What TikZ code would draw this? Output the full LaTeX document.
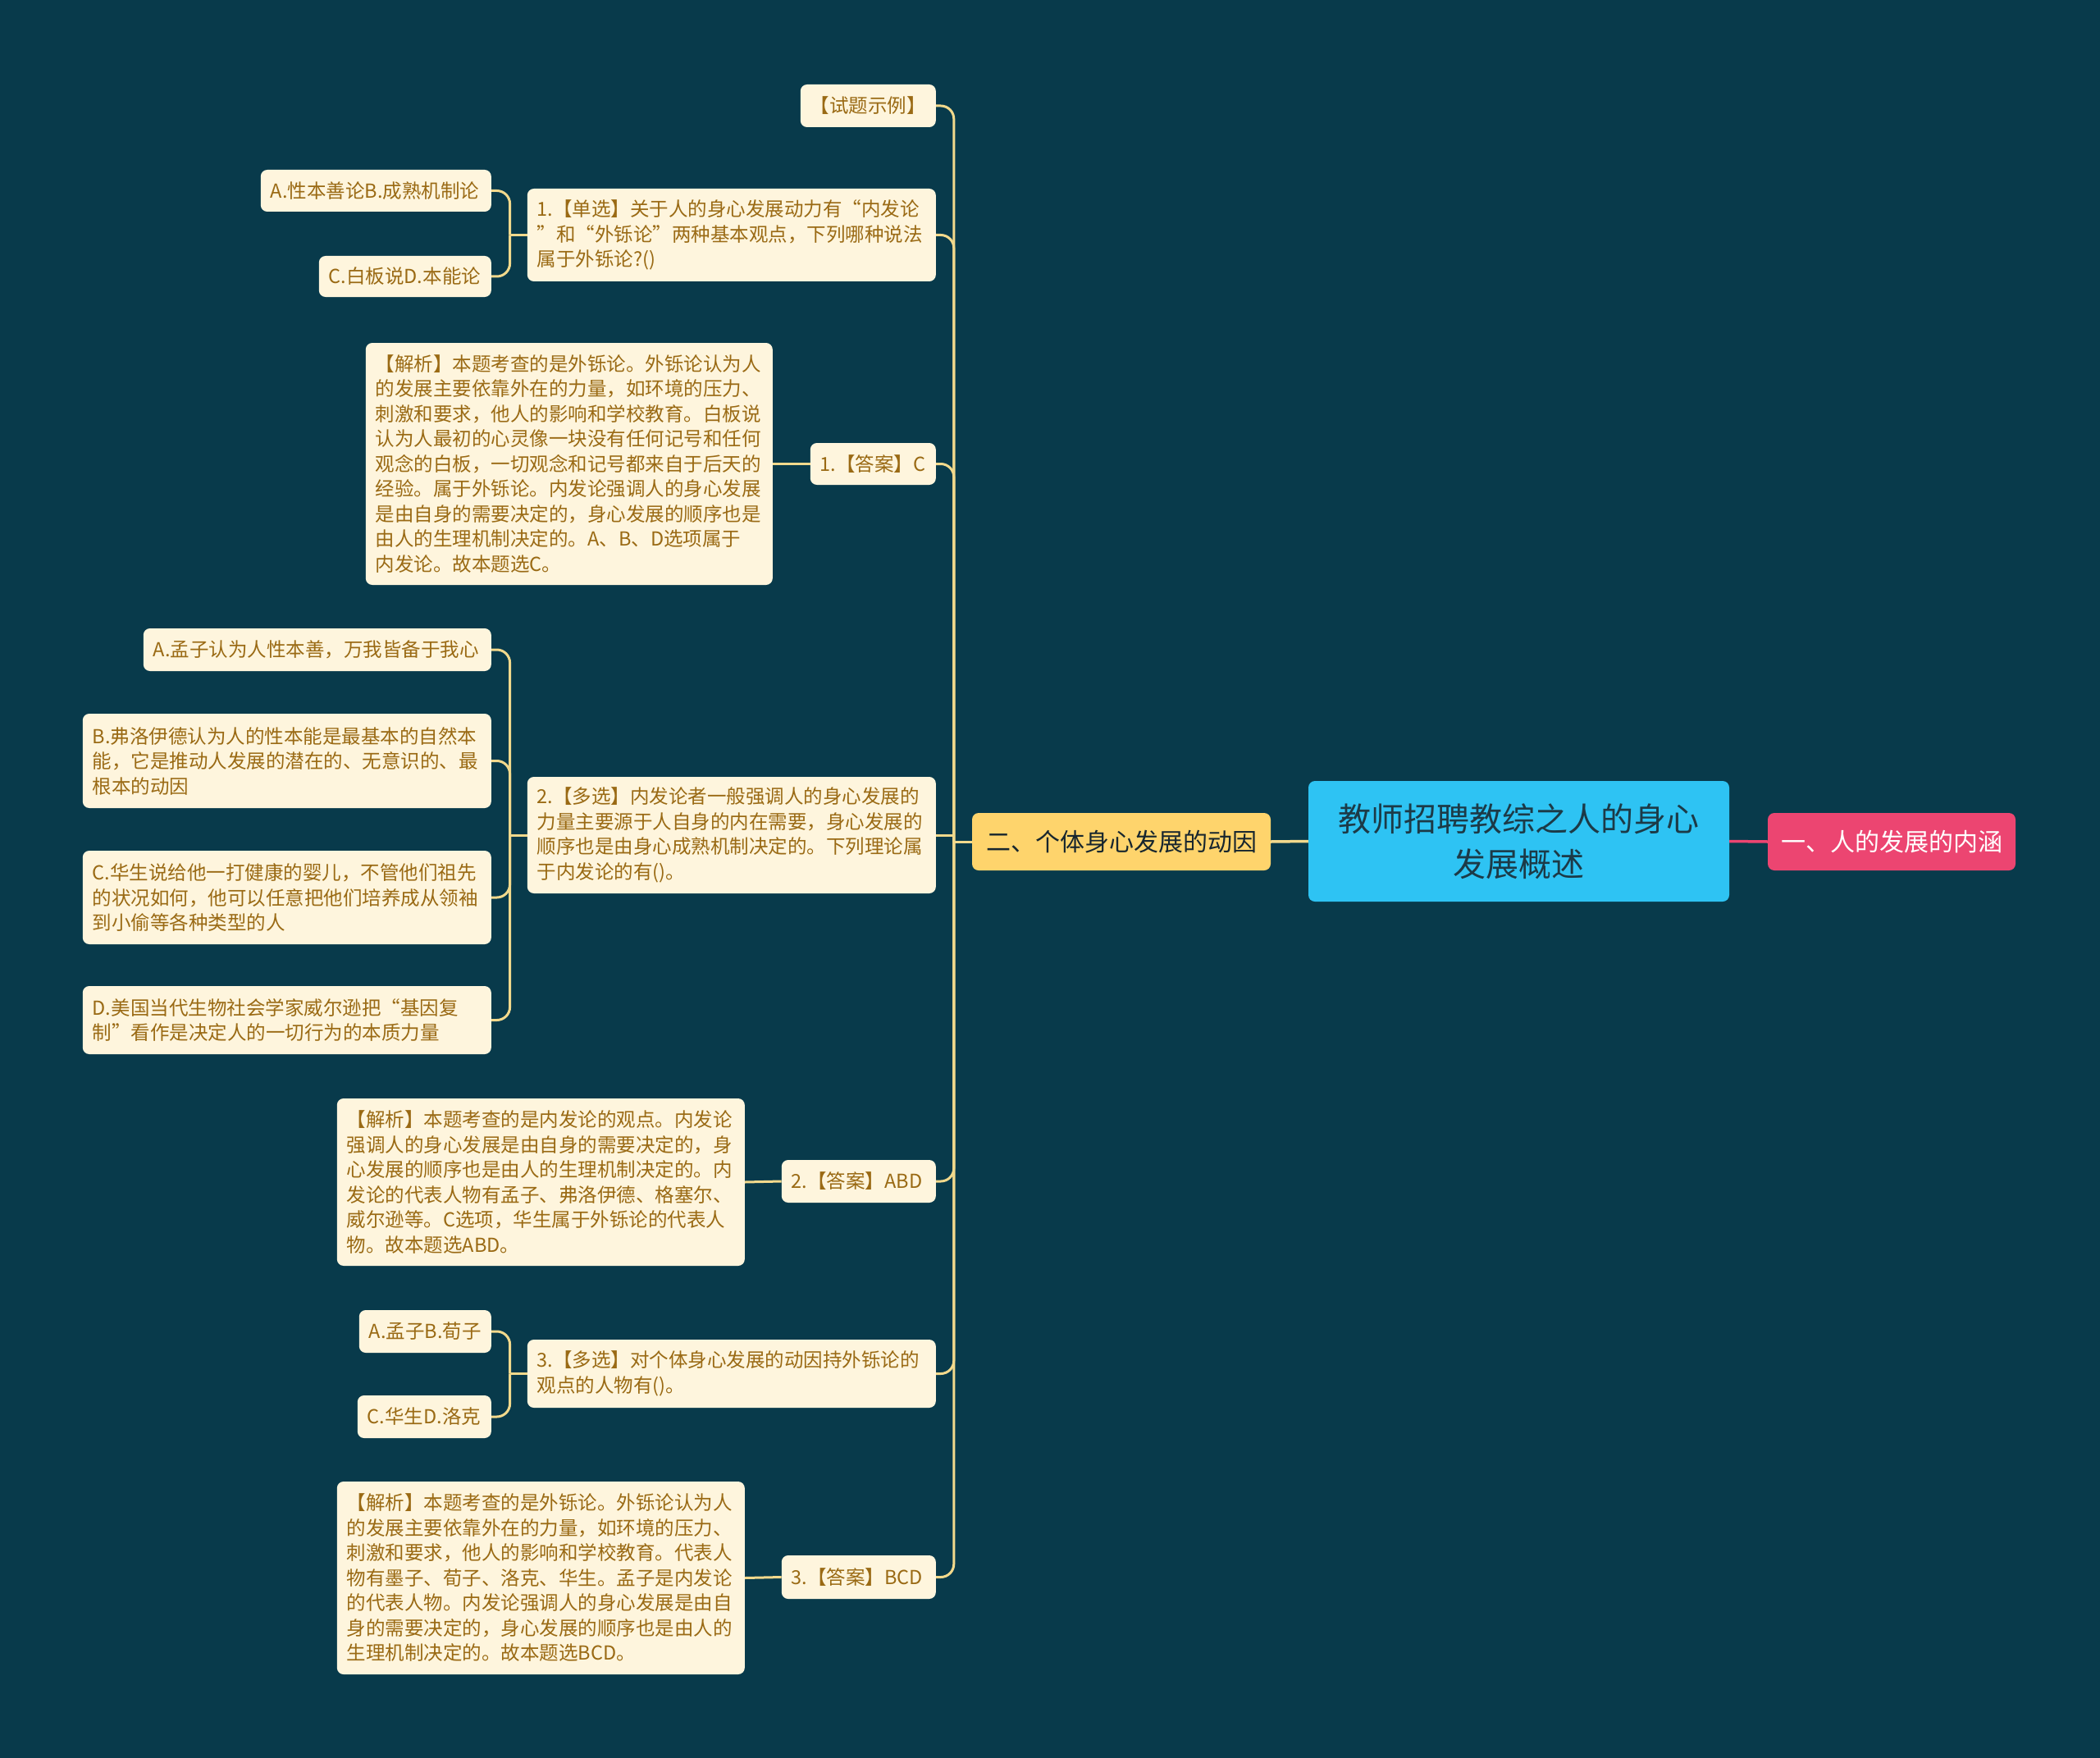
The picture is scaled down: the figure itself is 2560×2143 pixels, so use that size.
\documentclass[tikz,border=0pt]{standalone}
\usepackage{fontspec}
\setmainfont{Noto Sans CJK SC}
\usetikzlibrary{positioning}
\definecolor{MapBg}{HTML}{083A4B}
\definecolor{MapCream}{HTML}{FEF5DD}
\definecolor{MapInk}{HTML}{9A6A14}
\definecolor{MapLine}{HTML}{F2D98C}
\definecolor{MapRoot}{HTML}{2EC3F3}
\definecolor{MapRootInk}{HTML}{1C3A47}
\definecolor{MapGold}{HTML}{FED46C}
\definecolor{MapPink}{HTML}{EC4571}
\definecolor{MapDark}{HTML}{17262E}

\begin{document}
\begin{tikzpicture}[x=1pt, y=-1pt,
  leaf/.style={rounded corners=8pt, fill=MapCream, text=MapInk, inner xsep=12pt, inner ysep=4pt,
    align=left, anchor=east, font=\fontsize{23.5}{30.5}\selectfont},
  topic/.style={rounded corners=8pt, inner sep=6pt, minimum height=70pt, align=center,
    font=\fontsize{30}{36}\selectfont},
  link/.style={draw=MapLine, line width=3pt, rounded corners=16pt}]
  \fill[MapBg] (0,0) rectangle (2560,2143);
  \useasboundingbox (0,0) rectangle (2560,2143);

  % centre and first level
  \node[rounded corners=8pt, fill=MapRoot, text=MapRootInk, minimum width=513pt, minimum height=147pt,
    align=center, font=\fontsize{40}{55}\selectfont] (root) at (1851.5,1025.5)
    {教师招聘教综之人的身心\\发展概述};
  \node[topic, fill=MapPink, text=white, minimum width=302pt] (inner) at (2306,1026) {一、人的发展的内涵};
  \node[topic, fill=MapGold, text=MapDark, minimum width=364pt] (cause) at (1367,1026) {二、个体身心发展的动因};

  % second level
  \node[leaf, text width=141pt, minimum height=52pt] (ex) at (1141,129) {【试题示例】};
  \node[leaf, text width=474pt, minimum height=113pt] (q1) at (1141,286.5)
    {1.【单选】关于人的身心发展动力有“内发论\\”和“外铄论”两种基本观点，下列哪种说法\\属于外铄论?()};
  \node[leaf, text width=129pt, minimum height=51pt] (a1) at (1141,565.5) {1.【答案】C};
  \node[leaf, text width=474pt, minimum height=142pt] (q2) at (1141,1018)
    {2.【多选】内发论者一般强调人的身心发展的\\力量主要源于人自身的内在需要，身心发展的\\顺序也是由身心成熟机制决定的。下列理论属\\于内发论的有()。};
  \node[leaf, text width=164pt, minimum height=52pt] (a2) at (1141,1440) {2.【答案】ABD};
  \node[leaf, text width=474pt, minimum height=83pt] (q3) at (1141,1674.5)
    {3.【多选】对个体身心发展的动因持外铄论的\\观点的人物有()。};
  \node[leaf, text width=164pt, minimum height=53pt] (a3) at (1141,1922.5) {3.【答案】BCD};

  % third level
  \node[leaf, text width=257pt, minimum height=51pt] (q1a) at (599,232.5) {A.性本善论B.成熟机制论};
  \node[leaf, text width=186pt, minimum height=50pt] (q1c) at (599,337) {C.白板说D.本能论};
  \node[leaf, text width=472pt, minimum height=295pt] (e1) at (942,565.5)
    {【解析】本题考查的是外铄论。外铄论认为人\\的发展主要依靠外在的力量，如环境的压力、\\刺激和要求，他人的影响和学校教育。白板说\\认为人最初的心灵像一块没有任何记号和任何\\观念的白板，一切观念和记号都来自于后天的\\经验。属于外铄论。内发论强调人的身心发展\\是由自身的需要决定的，身心发展的顺序也是\\由人的生理机制决定的。A、B、D选项属于\\内发论。故本题选C。};
  \node[leaf, text width=400pt, minimum height=52pt] (q2a) at (599,792) {A.孟子认为人性本善，万我皆备于我心};
  \node[leaf, text width=474pt, minimum height=115pt] (q2b) at (599,927.5)
    {B.弗洛伊德认为人的性本能是最基本的自然本\\能，它是推动人发展的潜在的、无意识的、最\\根本的动因};
  \node[leaf, text width=474pt, minimum height=114pt] (q2c) at (599,1094)
    {C.华生说给他一打健康的婴儿，不管他们祖先\\的状况如何，他可以任意把他们培养成从领袖\\到小偷等各种类型的人};
  \node[leaf, text width=474pt, minimum height=83pt] (q2d) at (599,1243.5)
    {D.美国当代生物社会学家威尔逊把“基因复\\制”看作是决定人的一切行为的本质力量};
  \node[leaf, text width=473pt, minimum height=204pt] (e2) at (908,1441)
    {【解析】本题考查的是内发论的观点。内发论\\强调人的身心发展是由自身的需要决定的，身\\心发展的顺序也是由人的生理机制决定的。内\\发论的代表人物有孟子、弗洛伊德、格塞尔、\\威尔逊等。C选项，华生属于外铄论的代表人\\物。故本题选ABD。};
  \node[leaf, text width=137pt, minimum height=52pt] (q3a) at (599,1623) {A.孟子B.荀子};
  \node[leaf, text width=139pt, minimum height=52pt] (q3c) at (599,1727) {C.华生D.洛克};
  \node[leaf, text width=473pt, minimum height=235pt] (e3) at (908,1923.5)
    {【解析】本题考查的是外铄论。外铄论认为人\\的发展主要依靠外在的力量，如环境的压力、\\刺激和要求，他人的影响和学校教育。代表人\\物有墨子、荀子、洛克、华生。孟子是内发论\\的代表人物。内发论强调人的身心发展是由自\\身的需要决定的，身心发展的顺序也是由人的\\生理机制决定的。故本题选BCD。};

  % connectors
  \draw[draw=MapPink, line width=3.5pt] (root.east) -- (inner.west);
  \draw[link, line width=3.5pt] (root.west) -- (cause.east);
  \draw[link] (cause.west) -- ++(-22,0) coordinate (j0);
  \foreach \k in {ex,q1,a1,a2,q3,a3}
    \draw[link] (j0) |- (\k.east);
  \draw[link, sharp corners] (j0) |- (q2.east);
  \draw[link] (q1.west) -- ++(-21,0) coordinate (j1);
  \foreach \k in {q1a,q1c}
    \draw[link] (j1) |- (\k.east);
  \draw[link] (q2.west) -- ++(-21,0) coordinate (j2);
  \foreach \k in {q2a,q2b,q2c,q2d}
    \draw[link] (j2) |- (\k.east);
  \draw[link] (q3.west) -- ++(-21,0) coordinate (j3);
  \foreach \k in {q3a,q3c}
    \draw[link] (j3) |- (\k.east);
  \draw[link] (a1.west) -- (e1.east);
  \draw[link] (a2.west) -- (e2.east);
  \draw[link] (a3.west) -- (e3.east);
\end{tikzpicture}
\end{document}
